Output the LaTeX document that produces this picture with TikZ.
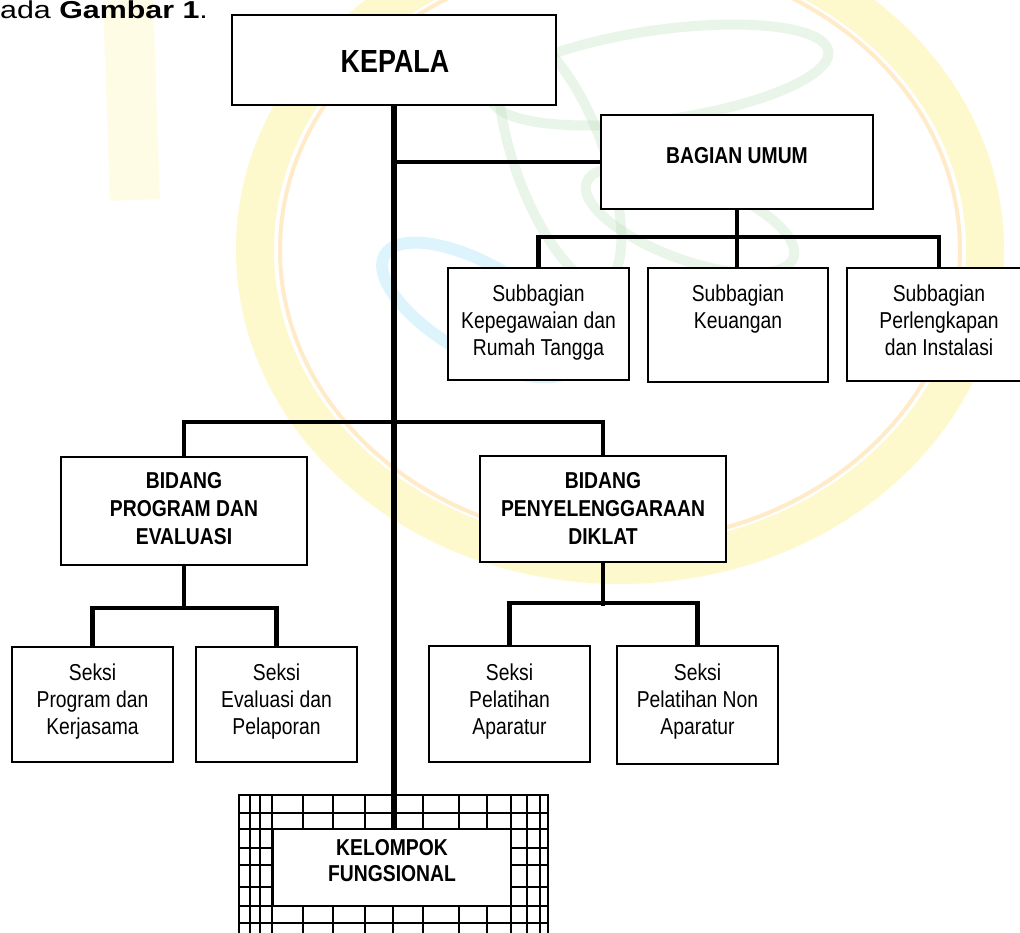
\documentclass[tikz,border=0pt]{standalone}
\usepackage{fontspec}
\setmainfont{Liberation Sans}
\newfontfamily\nf[FakeStretch=0.84]{Liberation Sans}
\usetikzlibrary{fit}
\begin{document}
\begin{tikzpicture}[x=1pt,y=-1pt,
  box/.style={draw=black, line width=2pt, fill=white, inner sep=0pt},
  conn/.style={draw=black, line width=4.5pt, line join=miter},
  mainline/.style={draw=black, line width=6pt},
  gridline/.style={draw=black, line width=2pt},
  txt/.style={inner sep=0pt, align=center, font=\nf\fontsize{23}{27}\selectfont},
  btxt/.style={inner sep=0pt, align=center, font=\nf\bfseries\fontsize{23}{28}\selectfont},
  wmY/.style={draw=yellow!85!orange, opacity=0.2},
  wmO/.style={draw=orange!70!yellow, opacity=0.22},
  wmG/.style={draw=green!55!black!40, opacity=0.2},
  wmC/.style={draw=cyan!60, opacity=0.22}]
\useasboundingbox (0,0) rectangle (1020,933);
\clip (0,0) rectangle (1020,933);
\fill[white] (0,0) rectangle (1020,933);

% faint watermark
\draw[wmY, line width=38pt] (620,250) ellipse (365pt and 315pt);
\draw[wmO, line width=4pt] (620,250) ellipse (340pt and 292pt);
\draw[wmY, line width=50pt, opacity=0.1] (128,0) -- (135,200);
\draw[wmG, line width=10pt, rotate around={8:(660,75)}] (660,75) ellipse (170pt and 45pt);
\draw[wmG, line width=10pt, rotate around={-70:(560,160)}] (560,160) ellipse (130pt and 45pt);
\draw[wmG, line width=10pt, rotate around={-20:(690,220)}] (690,220) ellipse (110pt and 40pt);
\draw[wmC, line width=12pt, rotate around={-30:(480,310)}] (480,310) ellipse (110pt and 45pt);

% heading text
\node[anchor=base west, inner sep=0pt, font=\fontsize{24.5}{28}\selectfont] (head) at (0,19)
  {\scalebox{1.24}[1]{ada \textbf{Gambar 1}.}};

% grid around KELOMPOK FUNGSIONAL
\draw[gridline] (239,795) rectangle (548,945);
\foreach \gx in {250,260,272,511,527,540} \draw[gridline] (\gx,795) -- (\gx,945);
\foreach \gx in {303,333,365,393,423,459,487} {
  \draw[gridline] (\gx,795) -- (\gx,829);
  \draw[gridline] (\gx,906) -- (\gx,945);
}
\foreach \gy in {813,829,906,923} \draw[gridline] (239,\gy) -- (548,\gy);
\foreach \gy in {848,865,887} {
  \draw[gridline] (239,\gy) -- (272,\gy);
  \draw[gridline] (511,\gy) -- (548,\gy);
}

% boxes
\node[box, fit={(232,15) (556,105)}] (kepala) {};
\node[box, fit={(601,115) (873,209)}] (umum) {};
\node[box, fit={(448,268) (629,380)}] (sub1) {};
\node[box, fit={(648,268) (828,382)}] (sub2) {};
\node[box, fit={(847,268) (1031,381)}] (sub3) {};
\node[box, fit={(61,457) (307,565)}] (bid1) {};
\node[box, fit={(480,456) (726,562)}] (bid2) {};
\node[box, fit={(12,647) (173,762)}] (sek1) {};
\node[box, fit={(196,647) (357,762)}] (sek2) {};
\node[box, fit={(429,646) (590,762)}] (sek3) {};
\node[box, fit={(617,646) (778,764)}] (sek4) {};
\node[box, fit={(273,829) (511,906)}] (kf) {};

% hubs
\coordinate (hubU) at (738,237);
\coordinate (hubB) at (394,422);
\coordinate (hubP) at (184,608);
\coordinate (hubD) at (603,603);

% connectors
\draw[mainline] (kepala.south) -- (kepala.south |- kf.north);
\draw[conn] (kepala.south |- umum.west) -- (umum.west);
\draw[conn] (umum.south) -- (umum.south |- sub2.north);
\draw[conn] (sub1.north) -- (sub1.north |- hubU) -- (sub3.north |- hubU) -- (sub3.north);
\draw[conn] (bid1.north) -- (bid1.north |- hubB) -- (bid2.north |- hubB) -- (bid2.north);
\draw[conn] (bid1.south) -- (bid1.south |- hubP);
\draw[conn] (sek1.north) -- (sek1.north |- hubP) -- (sek2.north |- hubP) -- (sek2.north);
\draw[conn] (bid2.south) -- (bid2.south |- hubD) -- ++(0,3);
\draw[conn] (sek3.north) -- (sek3.north |- hubD) -- (sek4.north |- hubD) -- (sek4.north);

% texts
\node[inner sep=0pt, anchor=base, font=\nf\bfseries\fontsize{32}{36}\selectfont] (tkepala) at (395,73) {KEPALA};
\node[btxt, anchor=base] (tumum) at (737,164) {BAGIAN UMUM};
\node[txt, anchor=north] (tsub1) at (538.5,285) {Subbagian\\Kepegawaian dan\\Rumah Tangga};
\node[txt, anchor=north] (tsub2) at (738,285) {Subbagian\\Keuangan};
\node[txt, anchor=north] (tsub3) at (939,285) {Subbagian\\Perlengkapan\\dan Instalasi};
\node[btxt, anchor=north] (tbid1) at (184,472) {BIDANG\\PROGRAM DAN\\EVALUASI};
\node[btxt, anchor=north] (tbid2) at (603,472) {BIDANG\\PENYELENGGARAAN\\DIKLAT};
\node[txt, anchor=north] (tsek1) at (92.5,664) {Seksi\\Program dan\\Kerjasama};
\node[txt, anchor=north] (tsek2) at (276.5,664) {Seksi\\Evaluasi dan\\Pelaporan};
\node[txt, anchor=north] (tsek3) at (509.5,664) {Seksi\\Pelatihan\\Aparatur};
\node[txt, anchor=north] (tsek4) at (697.5,664) {Seksi\\Pelatihan Non\\Aparatur};
\node[inner sep=0pt, align=center, anchor=north, font=\nf\bfseries\fontsize{23}{26}\selectfont] (tkf) at (392,839) {KELOMPOK\\FUNGSIONAL};
\end{tikzpicture}
\end{document}
